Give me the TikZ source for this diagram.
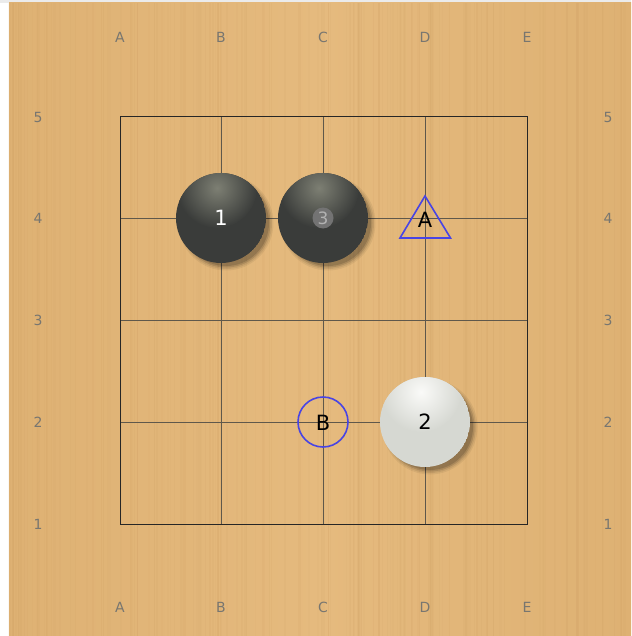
\documentclass[tikz,border=0pt]{standalone}
\usepackage{fontspec}
\setmainfont{DejaVu Sans}
\begin{document}
\begin{tikzpicture}[x=1pt,y=-1pt,
  coordlabel/.style={text=coordgray,font=\fontsize{14}{14}\selectfont,inner sep=0pt},
  gridline/.style={draw=gridcol,line width=0.75pt},
  marker/.style={draw=markblue,line width=1.6pt},
  stonelabel/.style={font=\fontsize{21}{21}\selectfont,inner sep=0pt}]
\definecolor{wood}{RGB}{222,177,115}
\definecolor{woodlight}{RGB}{229,186,126}
\definecolor{wooddark}{RGB}{200,152,92}
\definecolor{coordgray}{RGB}{120,118,112}
\definecolor{gridcol}{RGB}{95,88,75}
\definecolor{markblue}{RGB}{72,68,228}
\definecolor{blackstone}{RGB}{58,60,58}
\definecolor{blackhi}{RGB}{125,127,115}
\definecolor{whitestone}{RGB}{214,216,210}
\definecolor{whitehi}{RGB}{250,250,248}
\useasboundingbox (0,0) rectangle (631,636);
\fill[white] (0,0) rectangle (631,636);
\fill[black!8] (0,0) rectangle (631,3);
% wood
\shade[left color=wood, right color=wood, middle color=woodlight] (9,3) rectangle (631,636);
\pgfmathsetseed{11}
\foreach \i in {1,...,160}{
  \pgfmathsetmacro\xx{9+rnd*622}
  \pgfmathsetmacro\ww{0.4+rnd*2.2}
  \pgfmathsetmacro\oo{0.04+rnd*0.08}
  \draw[wooddark,line width=\ww pt,opacity=\oo] (\xx,3) -- (\xx,636);
}
% coordinates
\foreach \c/\x in {A/120,B/221,C/323,D/425,E/527}{
  \node[coordlabel] (top\c) at (\x,37) {\c};
  \node[coordlabel] (bot\c) at (\x,607) {\c};
}
\foreach \r/\y in {5/117,4/218,3/320,2/422,1/524}{
  \node[coordlabel] (left\r) at (38,\y) {\r};
  \node[coordlabel] (right\r) at (608,\y) {\r};
}
% grid
\foreach \x in {221,323,425}{ \draw[gridline] (\x,117) -- (\x,524); }
\foreach \y in {218,320,422}{ \draw[gridline] (120,\y) -- (527,\y); }
\draw[draw=black!85,line width=1pt] (120,117) rectangle (527,524);
% shadows
\foreach \p in {(221,218),(323,218),(425,422)}{
  \foreach \rr/\op in {47.5/0.06,46/0.08,44.5/0.12,43/0.14}{
    \fill[black,opacity=\op] \p ++(5,5) circle (\rr);
  }
}
% black stones
\foreach \n/\x in {s1/221,s3/323}{
  \begin{scope}
    \clip (\x,218) circle (45);
    \fill[blackstone] (\x,218) circle (45);
    \shade[inner color=blackhi, outer color=blackstone] (\x-4,188) circle (40);
  \end{scope}
  \coordinate (\n) at (\x,218);
}
% white stone
\begin{scope}
  \clip (425,422) circle (45);
  \fill[whitestone] (425,422) circle (45);
  \shade[inner color=whitehi, outer color=whitestone] (421,392) circle (40);
\end{scope}
\coordinate (s2) at (425,422);
% labels
\node[stonelabel,text=white] (l1) at (s1) {1};
\fill[black!55] (s3) circle (10.5);
\node[stonelabel,text=black!30,font=\fontsize{17}{17}\selectfont] (l3) at (s3) {3};
\node[stonelabel,text=black] (l2) at (s2) {2};
% markers
\draw[marker] (425,196) -- (400,238) -- (450.5,238) -- cycle;
\node[stonelabel,text=black] (mA) at (425,220) {A};
\draw[marker] (323,422) circle (25);
\node[stonelabel,text=black] (mB) at (323,423) {B};
\end{tikzpicture}
\end{document}
